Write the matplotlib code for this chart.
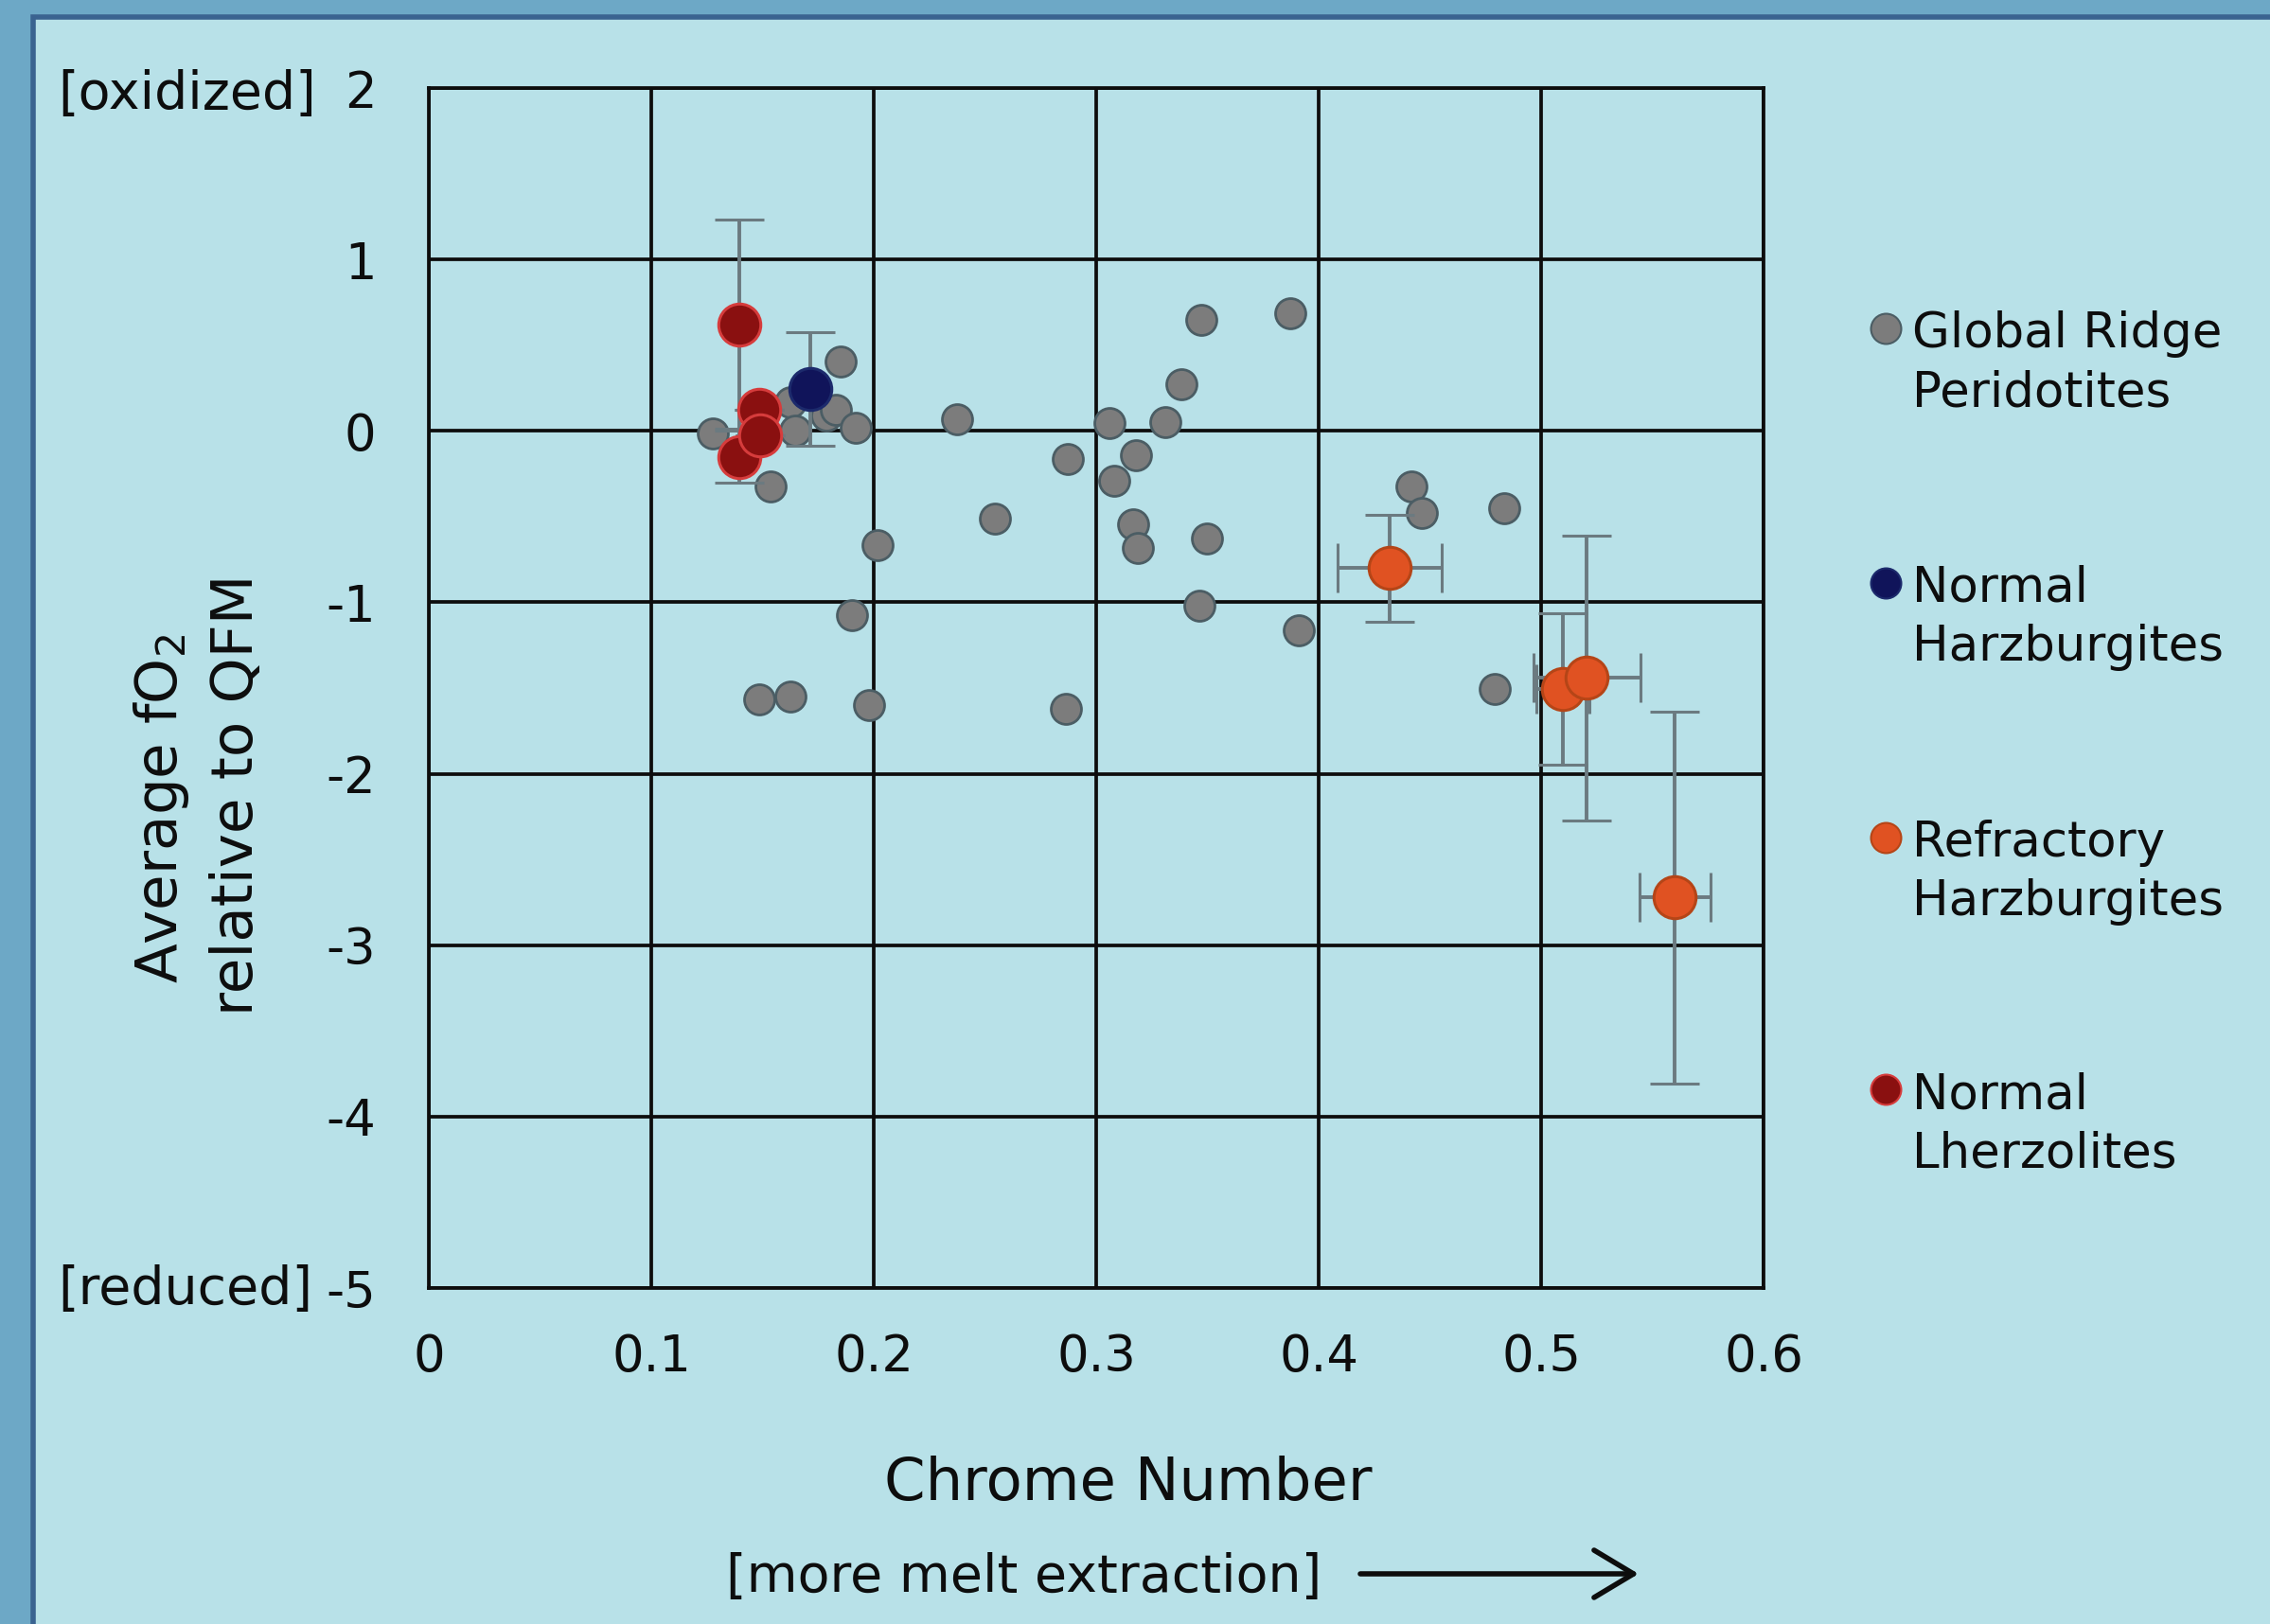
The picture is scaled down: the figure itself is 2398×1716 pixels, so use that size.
import matplotlib
matplotlib.use("Agg")
import matplotlib.pyplot as plt
from matplotlib.patches import Rectangle
from matplotlib.lines import Line2D
from matplotlib.transforms import blended_transform_factory

plt.rcParams['font.family'] = ['DejaVu Sans']
plt.rcParams['axes.unicode_minus'] = False

# ---- data ----
# Global Ridge Peridotites
ridge_x = [0.1278, 0.1536, 0.1626, 0.1647, 0.1789, 0.1831, 0.1850, 0.1919, 0.2015,
           0.1900, 0.1483, 0.1626, 0.1978, 0.2374, 0.2545, 0.2874, 0.2864, 0.3061,
           0.3080, 0.3179, 0.3167, 0.3187, 0.3309, 0.3382, 0.3472, 0.3874, 0.3498,
           0.3463, 0.3909, 0.4416, 0.4464, 0.4834, 0.4792]
ridge_y = [-0.013, -0.326, 0.167, 0.002, 0.088, 0.125, 0.403, 0.020, -0.665,
           -1.075, -1.564, -1.547, -1.598, 0.066, -0.514, -0.164, -1.623, 0.047,
           -0.293, -0.142, -0.545, -0.685, 0.053, 0.272, 0.646, 0.688, -0.630,
           -1.020, -1.161, -0.326, -0.479, -0.453, -1.506]

# Normal Harzburgites
harz_x = [0.1715]
harz_y = [0.244]
harz_yerr = [0.33]

# Refractory Harzburgites
refr_x = [0.4320, 0.5099, 0.5206, 0.5601]
refr_y = [-0.801, -1.506, -1.442, -2.722]
refr_xerr = [0.0235, 0.012, 0.024, 0.016]
refr_yerr = [0.31, 0.44, 0.83, 1.085]

# Normal Lherzolites
lherz_x = [0.1394, 0.1394, 0.1484, 0.1491]
lherz_y = [0.622, -0.151, 0.121, -0.026]
lherz_yerr = [0.61, 0.15, 0.0, 0.0]

x_ticks = [0, 0.1, 0.2, 0.3, 0.4, 0.5, 0.6]
x_tick_labels = ['0', '0.1', '0.2', '0.3', '0.4', '0.5', '0.6']
y_ticks = [-5, -4, -3, -2, -1, 0, 1, 2]
y_tick_labels = ['-5', '-4', '-3', '-2', '-1', '0', '1', '2']

legend_labels = [('Global Ridge', 'Peridotites'), ('Normal', 'Harzburgites'),
                 ('Refractory', 'Harzburgites'), ('Normal', 'Lherzolites')]

# ---- colours ----
OUTER = '#6da8c6'
BORDER = '#3a6390'
PANEL = '#b8e1e8'
GRID = '#0d0d0d'
ERR = '#6b7a80'
GRAY, GRAY_E = '#7c7c7c', '#4b5d64'
NAVY, NAVY_E = '#10145a', '#1c2a6c'
ORANGE, ORANGE_E = '#e05222', '#b54517'
RED, RED_E = '#8a1010', '#d63c3c'
TXT = '#0d0d0d'

W, H = 2398, 1716
fig = plt.figure(figsize=(W / 100, H / 100), dpi=100)
fig.patch.set_facecolor(OUTER)
fig.add_artist(Rectangle((35 / W, -0.05), 1.2, 1.05 - 18 / H, transform=fig.transFigure,
                         facecolor=PANEL, edgecolor=BORDER, linewidth=4, zorder=-10))

ax = fig.add_axes([453 / W, 355 / H, 1410 / W, 1268 / H])
ax.set_facecolor('none')
ax.set_xlim(0, 0.6)
ax.set_ylim(-5, 2)
ax.set_xticks(x_ticks, x_tick_labels)
ax.set_yticks(y_ticks, y_tick_labels)
ax.grid(True, color=GRID, linewidth=2.7)
ax.set_axisbelow(True)
for s in ax.spines.values():
    s.set_color(GRID)
    s.set_linewidth(2.7)
ax.tick_params(axis='both', length=0, labelsize=38, colors=TXT)
ax.tick_params(axis='x', pad=34)
ax.tick_params(axis='y', pad=40)

# points
ax.plot(ridge_x, ridge_y, 'o', linestyle='none', ms=23, mfc=GRAY, mec=GRAY_E, mew=2,
        zorder=3)
eb = dict(fmt='o', ms=32, mew=2.2, ecolor=ERR, elinewidth=2.8, capsize=19, capthick=2.8,
          zorder=5)
ax.errorbar(harz_x, harz_y, yerr=harz_yerr, mfc=NAVY, mec=NAVY_E, **eb)
ax.errorbar(lherz_x, lherz_y, yerr=lherz_yerr, mfc=RED, mec=RED_E, **eb)
ax.errorbar(refr_x, refr_y, xerr=refr_xerr, yerr=refr_yerr, mfc=ORANGE, mec=ORANGE_E, **eb)

# end labels on the y axis
tr = blended_transform_factory(fig.transFigure, ax.transData)
ax.text(61 / W, 1.96, '[oxidized]', transform=tr, ha='left', va='center', fontsize=40,
        color=TXT)
ax.text(61 / W, -5.01, '[reduced]', transform=tr, ha='left', va='center', fontsize=40,
        color=TXT)

# axis titles
fig.text(1192 / W, 1 - 1585 / H, 'Chrome Number', ha='center', va='baseline', fontsize=45,
         color=TXT)
fig.text(767 / W, 1 - 1682 / H, '[more melt extraction]', ha='left', va='baseline',
         fontsize=40, color=TXT)
ax.annotate('', xy=(1731 / W, 1 - 1663 / H), xytext=(1437 / W, 1 - 1663 / H),
            xycoords='figure fraction', textcoords='figure fraction',
            arrowprops=dict(arrowstyle='->,head_length=1.5,head_width=0.9',
                            mutation_scale=20, lw=4, color=TXT,
                            shrinkA=0, shrinkB=0))

fig.text(187 / W, 1 - 854 / H, 'Average fO$_2$', rotation=90, rotation_mode='anchor',
         ha='center', va='baseline', fontsize=44, color=TXT)
fig.text(267 / W, 1 - 840 / H, 'relative to QFM', rotation=90, rotation_mode='anchor',
         ha='center', va='baseline', fontsize=44, color=TXT)

# legend, drawn by hand so the wide spacing matches
legend_style = [(GRAY, GRAY_E), (NAVY, NAVY_E), (ORANGE, ORANGE_E), (RED, RED_E)]
line1_base = [367, 636, 905, 1171]
for (l1, l2), (fc, ec), yb in zip(legend_labels, legend_style, line1_base):
    fig.add_artist(Line2D([1992 / W], [1 - (yb - 20) / H], transform=fig.transFigure,
                          marker='o', ms=23, mfc=fc, mec=ec, mew=1.5, linestyle='none'))
    fig.text(2020 / W, 1 - yb / H, l1, ha='left', va='baseline', fontsize=37, color=TXT)
    fig.text(2020 / W, 1 - (yb + 62) / H, l2, ha='left', va='baseline', fontsize=37,
             color=TXT)

fig.savefig('out.png', dpi=100, facecolor=fig.get_facecolor())
